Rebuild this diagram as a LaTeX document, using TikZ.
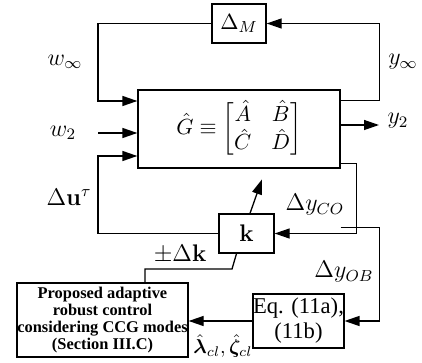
\documentclass[tikz,border=0pt]{standalone}
\usepackage[no-math]{fontspec}
\setmainfont{Liberation Serif}
\usepackage{amsmath}
\usepackage{bm}
\usetikzlibrary{arrows.meta}

\begin{document}
\begin{tikzpicture}[x=0.5pt,y=-0.5pt,line width=0.65pt,>={Triangle[length=7.5pt,width=5pt]},
  blk/.style={draw,inner sep=0pt,align=center,font=\fontsize{11}{13}\selectfont},
  lbl/.style={font=\large}]
  \useasboundingbox (0,0) rectangle (422,363);
  % bloques
  \node[blk,minimum width=27pt,minimum height=19.5pt] (DM) at (239,23.5) {$\Delta_M$};
  \node[blk,minimum width=101pt,minimum height=39pt] (G) at (239,129)
    {$\hat G\equiv\begin{bmatrix}\hat A & \hat B\\ \hat C & \hat D\end{bmatrix}$};
  \node[blk,minimum width=27.5pt,minimum height=19.5pt,font=\large] (k) at (246.5,233.5) {$\mathbf{k}$};
  \node[blk,minimum width=42.5pt,minimum height=27pt,font=\fontsize{11.3}{12.5}\selectfont] (Eq) at (298.5,321) {Eq. (11a),\\(11b)};
  \node[blk,minimum width=85.5pt,minimum height=37pt,font=\fontsize{8.2}{8.6}\selectfont\bfseries] (Prop) at (102.5,320)
    {Proposed adaptive\\robust control\\considering CCG modes\\(Section III.C)};
  % lazo de incertidumbre
  \coordinate (wi) at (98,101);
  \draw[->] ([yshift=-5.5pt]G.north east) -- ++(39,0) |- (DM.east);
  \draw[->] (DM.west) -| (wi) -- (wi -| G.west);
  \node[lbl] (winf) at (65,62) {$w_\infty$};
  \node[lbl] (yinf) at (403,62) {$y_\infty$};
  % entradas y salidas
  \coordinate (w2in) at (98,133);
  \coordinate (y2out) at (379,125);
  \node[lbl] (w2) at (63,133) {$w_2$};
  \node[lbl] (y2) at (398,121) {$y_2$};
  \draw[->] (w2in) -- (w2in -| G.west);
  \draw[->] (y2out -| G.east) -- (y2out);
  % realimentacion
  \coordinate (du) at (98,156);
  \draw[->] (k.west) -| (du) -- (du -| G.west);
  \draw[->] ([yshift=2.5pt]G.south east) -- ++(16,0) |- (k.east);
  \draw[->] ([yshift=-29.5pt]G.south east) -- ++(39,0) |- (Eq.east);
  \draw[->] (Eq.west) -- (Eq.west -| Prop.east);
  \draw ([xshift=21.25pt]Prop.north) |- (232,269) -- ([xshift=-5pt]k.south);
  \draw[->] ([xshift=1.75pt]k.north) -- ++(12,-34);
  \node[lbl] (du-l) at (69,197) {$\Delta\mathbf{u}^\tau$};
  \node[lbl] (yco) at (315,205) {$\Delta y_{CO}$};
  \node[lbl] (dk) at (180,254) {$\pm\Delta\mathbf{k}$};
  \node[lbl] (yob) at (344,272) {$\Delta y_{OB}$};
  \node[font=\normalsize] (lam) at (223,346) {$\hat{\bm\lambda}_{cl},\hat{\bm\zeta}_{cl}$};
\end{tikzpicture}
\end{document}
